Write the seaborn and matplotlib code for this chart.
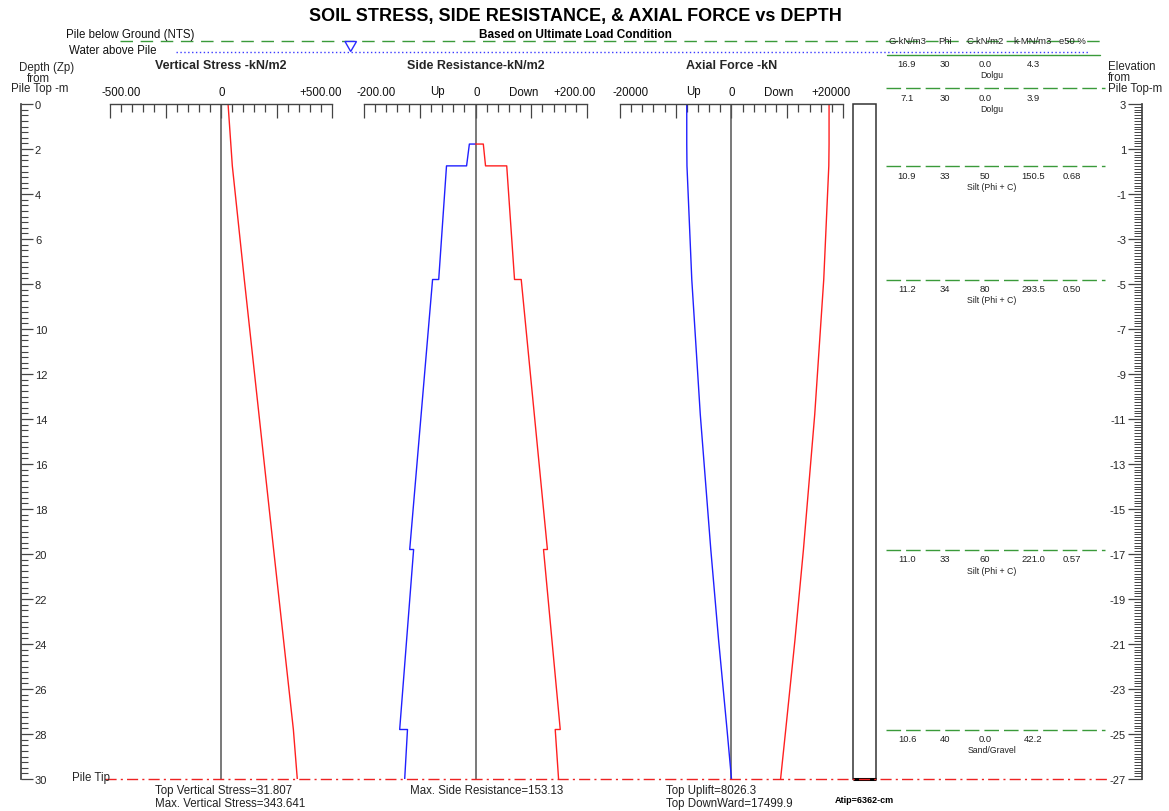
import numpy as np
import pandas as pd
import matplotlib
matplotlib.use("Agg")
import matplotlib.pyplot as plt
import seaborn as sns
from matplotlib.ticker import MultipleLocator, FixedLocator
from matplotlib.patches import Polygon, Rectangle

sns.set_theme(style="white")
plt.rcParams['font.family'] = ['Liberation Sans', 'DejaVu Sans']

# ---------------- data ----------------
stress_depth = [0, 2.75, 7.8, 19.8, 27.8, 30]
stress_val = [31.807, 51, 105, 237, 326, 343.641]

side_depth = [1.78, 1.78, 2.75, 2.75, 7.8, 7.8, 19.8, 19.8, 27.8, 27.8, 30]
side_down = [0, 14, 18, 56, 70, 82, 129, 122, 152, 143, 149]
side_up = [0, -11, -16, -52, -66, -77, -118, -111, -136, -122, -127]

axial_depth = [0, 1.78, 2.75, 7.8, 13.8, 19.8, 23.8, 27.8, 30]
axial_up = [-8026.3, -8026.3, -7988, -7125, -5599, -3714, -2323, -804, 0]
axial_down = [17499.9, 17499.9, 17454, 16546, 14929, 12904, 11391, 9731, 8804]

layer_depth = [-2.2, -0.7, 2.75, 7.8, 19.8, 27.8]
layer_gamma = ['16.9', '7.1', '10.9', '11.2', '11.0', '10.6']
layer_phi = ['30', '30', '33', '34', '33', '40']
layer_c = ['0.0', '0.0', '50', '80', '60', '0.0']
layer_k = ['4.3', '3.9', '150.5', '293.5', '221.0', '42.2']
layer_e50 = ['', '', '0.68', '0.50', '0.57', '']
layer_name = ['Dolgu', 'Dolgu', 'Silt (Phi + C)', 'Silt (Phi + C)', 'Silt (Phi + C)', 'Sand/Gravel']
soil_headers = ['G-kN/m3', 'Phi', 'C-kN/m2', 'k-MN/m3', 'e50 %']

depth_ticks = list(range(0, 31, 2))
elev_ticks = [3 - d for d in depth_ticks]
pile_length = 30

# ---------------- layout ----------------
W, H = 1169, 812
fig = plt.figure(figsize=(W / 100, H / 100), dpi=100)
fig.patch.set_facecolor('white')

Y0, Y1 = 105, 780  # pixel rows for depth 0 and 30
PXM = (Y1 - Y0) / pile_length


def px_axes(x0, x1, y0, y1):
    ax = fig.add_axes([x0 / W, 1 - y1 / H, (x1 - x0) / W, (y1 - y0) / H])
    ax.patch.set_alpha(0)
    return ax


def ruler_panel(x0, x1, lim, major, minor):
    ax = px_axes(x0, x1, Y0, Y1)
    ax.set_xlim(-lim, lim)
    ax.set_ylim(pile_length, 0)
    for s in ['left', 'right', 'bottom']:
        ax.spines[s].set_visible(False)
    ax.spines['top'].set_color('#444444')
    ax.spines['top'].set_linewidth(1)
    ax.xaxis.set_ticks_position('top')
    ax.xaxis.set_major_locator(MultipleLocator(major))
    ax.xaxis.set_minor_locator(MultipleLocator(minor))
    ax.tick_params(axis='x', which='major', direction='in', length=10, width=0.9,
                   color='#444444', labeltop=False, labelbottom=False, top=True, bottom=False)
    ax.tick_params(axis='x', which='minor', direction='in', length=5.5, width=0.9,
                   color='#444444', top=True, bottom=False)
    ax.set_yticks([])
    ax.axvline(0, color='#555555', lw=1.1, zorder=1)
    ax.grid(False)
    return ax


# Panel 1: vertical stress
ax1 = ruler_panel(110, 332, 500, 250, 50)
sns.lineplot(x=stress_val, y=stress_depth, sort=False, estimator=None,
             color='#ff2020', lw=1, ax=ax1)

# Panel 2: side resistance
ax2 = ruler_panel(364, 587, 200, 100, 20)
sns.lineplot(x=side_up, y=side_depth, sort=False, estimator=None,
             color='#2020ff', lw=1, ax=ax2)
sns.lineplot(x=side_down, y=side_depth, sort=False, estimator=None,
             color='#ff2020', lw=1, ax=ax2)

# Panel 3: axial force
ax3 = ruler_panel(620, 843, 20000, 10000, 2000)
sns.lineplot(x=axial_up, y=axial_depth, sort=False, estimator=None,
             color='#2020ff', lw=1, ax=ax3)
sns.lineplot(x=axial_down, y=axial_depth, sort=False, estimator=None,
             color='#ff2020', lw=1, ax=ax3)
for a in (ax1, ax2, ax3):
    a.set_xlabel('')
    a.set_ylabel('')

# Depth axis (left)
axd = px_axes(20, 21, Y0, Y1)
axd.set_ylim(pile_length, 0)
for s in ['left', 'top', 'bottom']:
    axd.spines[s].set_visible(False)
axd.spines['right'].set_color('#444444')
axd.yaxis.tick_right()
axd.yaxis.set_major_locator(FixedLocator(depth_ticks))
axd.yaxis.set_minor_locator(MultipleLocator(0.25))
axd.tick_params(axis='y', which='major', direction='out', length=8.5, width=0.9,
                color='#444444', labelsize=8, pad=1.5)
axd.tick_params(axis='y', which='minor', direction='out', length=5, width=0.8, color='#444444')
axd.set_yticklabels([str(t) for t in depth_ticks])
axd.set_xticks([])

# Elevation axis (right)
axe = px_axes(1142, 1143, Y0, Y1)
axe.set_ylim(3 - pile_length, 3)
for s in ['right', 'top', 'bottom']:
    axe.spines[s].set_visible(False)
axe.spines['left'].set_color('#444444')
axe.yaxis.tick_left()
axe.yaxis.set_major_locator(FixedLocator(elev_ticks))
axe.yaxis.set_minor_locator(MultipleLocator(0.125))
axe.tick_params(axis='y', which='major', direction='out', length=10, width=0.9,
                color='#444444', labelsize=8, pad=1.5)
axe.tick_params(axis='y', which='minor', direction='out', length=5.5, width=0.7, color='#444444')
axe.set_yticklabels([str(t) for t in elev_ticks])
axe.set_xticks([])

# Soil table (depth coordinates)
axs = px_axes(880, 1110, 30, Y1)
axs.set_xlim(880, 1110)
axs.set_ylim(pile_length, -(Y0 - 30) / PXM)
axs.axis('off')
col_x = [907, 945, 985, 1033, 1072]
green = '#3a9a3a'
for i, d in enumerate(layer_depth):
    if i == 0:
        axs.plot([887, 1100], [d, d], color=green, lw=1)
    else:
        axs.plot([886, 1105], [d, d], color=green, lw=1, ls=(0, (10.5, 3.6)))
    vals = [layer_gamma[i], layer_phi[i], layer_c[i], layer_k[i], layer_e50[i]]
    for x, v in zip(col_x, vals):
        axs.text(x, d + 9.3 / PXM, v, ha='center', va='center', fontsize=6.8, color='#222222')
    axs.text(992, d + 20.5 / PXM, layer_name[i], ha='center', va='center', fontsize=6.3,
             color='#222222')

# ---------------- overlay (decor + text) ----------------
ov = fig.add_axes([0, 0, 1, 1])
ov.set_xlim(0, W)
ov.set_ylim(H, 0)
ov.axis('off')
ov.patch.set_alpha(0)

ov.text(575, 17, 'SOIL STRESS, SIDE RESISTANCE, & AXIAL FORCE vs DEPTH', ha='center', va='center',
        fontsize=13, fontweight='bold', color='black')
ov.text(575, 34.5, 'Based on Ultimate Load Condition', ha='center', va='center',
        fontsize=8.5, fontweight='bold', color='black')

ov.text(66, 35, 'Pile below Ground (NTS)', ha='left', va='center', fontsize=8.3, color='#111111')
ov.text(69, 50.5, 'Water above Pile', ha='left', va='center', fontsize=8.3, color='#111111')
ov.plot([120, 1100], [41.7, 41.7], color=green, lw=1, ls=(0, (9, 5.5)))
ov.plot([176, 1088], [52.7, 52.7], color='#3a3aff', lw=1, ls=(0, (1, 1.8)))
ov.add_patch(Polygon([[345, 42.5], [356.5, 42.5], [350.7, 52.5]], closed=True,
                     facecolor='white', edgecolor='#2a2aff', lw=1, zorder=5))

for i, h in enumerate(soil_headers):
    ov.text(col_x[i], 42, h, ha='center', va='center', fontsize=6.8, color='#222222')

ov.text(47, 68.5, 'Depth (Zp)', ha='center', va='center', fontsize=8.3)
ov.text(38, 78.5, 'from', ha='center', va='center', fontsize=8.3)
ov.text(40, 89, 'Pile Top -m', ha='center', va='center', fontsize=8.3)
ov.text(1108, 67.5, 'Elevation', ha='left', va='center', fontsize=8.3)
ov.text(1108, 78, 'from', ha='left', va='center', fontsize=8.3)
ov.text(1108, 89, 'Pile Top-m', ha='left', va='center', fontsize=8.3)

ov.text(221, 66, 'Vertical Stress -kN/m2', ha='center', va='center', fontsize=9, fontweight='bold')
ov.text(476, 66, 'Side Resistance-kN/m2', ha='center', va='center', fontsize=9, fontweight='bold')
ov.text(732, 66, 'Axial Force -kN', ha='center', va='center', fontsize=9, fontweight='bold')

tick_texts = [(121, '-500.00'), (221.5, '0'), (321, '+500.00'),
              (376, '-200.00'), (437.5, 'Up'), (476.5, '0'), (524, 'Down'), (575, '+200.00'),
              (631, '-20000'), (693, 'Up'), (732, '0'), (779, 'Down'), (831, '+20000')]
for x, t in tick_texts:
    ov.text(x, 92.5, t, ha='center', va='center', fontsize=8.3, color='#111111')

# pile
ov.add_patch(Rectangle((853, 105), 23, 675, fill=False, edgecolor='#333333', lw=1.1))
ov.plot([853, 876], [779.5, 779.5], color='black', lw=2.2, solid_capstyle='butt')

# pile tip line
ov.plot([105, 1108], [780, 780], color='#ee2222', lw=1, ls=(0, (8, 3, 1.5, 3)))
ov.text(72, 778, 'Pile Tip', ha='left', va='center', fontsize=8.3)

ov.text(155, 791, 'Top Vertical Stress=31.807', ha='left', va='center', fontsize=8.3, color='#222222')
ov.text(155, 804, 'Max. Vertical Stress=343.641', ha='left', va='center', fontsize=8.3, color='#222222')
ov.text(410, 791, 'Max. Side Resistance=153.13', ha='left', va='center', fontsize=8.3, color='#222222')
ov.text(666, 791, 'Top Uplift=8026.3', ha='left', va='center', fontsize=8.3, color='#222222')
ov.text(666, 804, 'Top DownWard=17499.9', ha='left', va='center', fontsize=8.3, color='#222222')
ov.text(835, 801, 'Atip=6362-cm', ha='left', va='center', fontsize=6.5, fontweight='bold', color='black')

fig.savefig('out.png', dpi=100, facecolor='white')
